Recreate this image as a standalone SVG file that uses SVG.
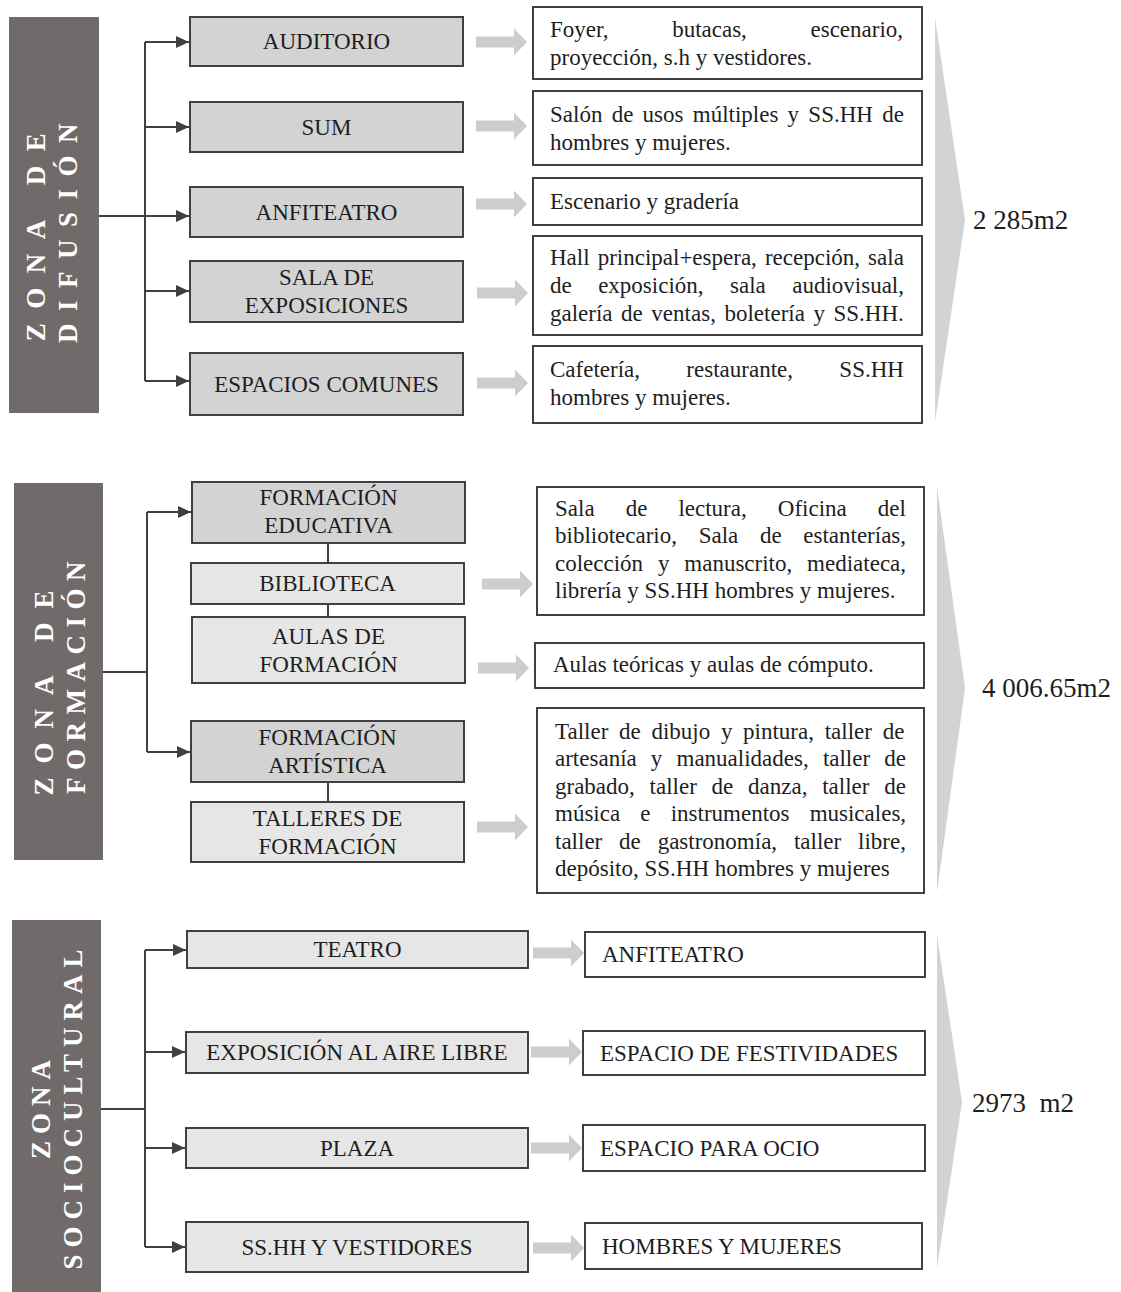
<svg xmlns="http://www.w3.org/2000/svg" width="1121" height="1292" viewBox="0 0 1121 1292">
<style>
.side{fill:#706b6a}
.st{font-family:"Liberation Serif","Times New Roman",serif;font-weight:bold;font-size:27px;fill:#ffffff}
.dk{fill:#d3d3d3;stroke:#404040;stroke-width:2}
.lt{fill:#e6e6e6;stroke:#404040;stroke-width:2}
.wb{fill:#ffffff;stroke:#404040;stroke-width:2}
.lbl{font-family:"Liberation Serif","Times New Roman",serif;font-size:23px;fill:#1e1e1e;text-anchor:middle}
.tx{font-family:"Liberation Serif","Times New Roman",serif;font-size:23px;fill:#1e1e1e}
.tot{font-family:"Liberation Serif","Times New Roman",serif;font-size:27px;fill:#1e1e1e}
.cn{fill:none;stroke:#404040;stroke-width:2}
.chev{fill:#d3d3d3}
.ga{fill:#cdcdcd}
</style>
<defs>
<marker id="ah" markerUnits="userSpaceOnUse" markerWidth="13" markerHeight="12" refX="13" refY="6" orient="auto">
<path d="M0,0 L13,6 L0,12 z" fill="#404040"/>
</marker>
<path id="garrow" d="M0,-5.5 H38 V-13.5 L51,0 L38,13.5 V5.5 H0 z"/>
</defs>

<!-- ZONA DE DIFUSION -->
<g id="zona-difusion">
<rect class="side" x="9" y="17" width="90" height="396"/>
<text class="st" transform="translate(45,230) rotate(-90)" text-anchor="middle" letter-spacing="14.5">ZONA DE</text>
<text class="st" transform="translate(77,227) rotate(-90)" text-anchor="middle" letter-spacing="12.5">DIFUSIÓN</text>
</g>
<g id="auditorio"><rect class="dk" x="190" y="17" width="273" height="49"/><text class="lbl" x="326.5" y="49">AUDITORIO</text></g>
<g id="sum"><rect class="dk" x="190" y="102" width="273" height="50"/><text class="lbl" x="326.5" y="135">SUM</text></g>
<g id="anfiteatro"><rect class="dk" x="190" y="187" width="273" height="50"/><text class="lbl" x="326.5" y="220">ANFITEATRO</text></g>
<g id="sala-exposiciones"><rect class="dk" x="190" y="261" width="273" height="61"/><text class="lbl" x="326.5" y="285">SALA DE</text><text class="lbl" x="326.5" y="313">EXPOSICIONES</text></g>
<g id="espacios-comunes"><rect class="dk" x="190" y="353" width="273" height="62"/><text class="lbl" x="326.5" y="392">ESPACIOS COMUNES</text></g>

<g id="d-auditorio"><rect class="wb" x="533" y="7" width="389" height="72"/>
<text class="tx" x="550" y="37" word-spacing="57.9">Foyer, butacas, escenario,</text>
<text class="tx" x="550" y="65">proyección, s.h y vestidores.</text></g>
<g id="d-sum"><rect class="wb" x="533" y="91" width="389" height="74"/>
<text class="tx" x="550" y="122" word-spacing="3.5">Salón de usos múltiples y SS.HH de</text>
<text class="tx" x="550" y="150">hombres y mujeres.</text></g>
<g id="d-anfiteatro"><rect class="wb" x="533" y="178" width="389" height="47"/>
<text class="tx" x="550" y="209">Escenario y gradería</text></g>
<g id="d-sala"><rect class="wb" x="533" y="236" width="389" height="99"/>
<text class="tx" x="550" y="265" word-spacing="2.3">Hall principal+espera, recepción, sala</text>
<text class="tx" x="550" y="293" word-spacing="20.7">de exposición, sala audiovisual,</text>
<text class="tx" x="550" y="321" word-spacing="2.8">galería de ventas, boletería y SS.HH.</text></g>
<g id="d-espacios"><rect class="wb" x="533" y="346" width="389" height="77"/>
<text class="tx" x="550" y="377" word-spacing="40.6">Cafetería, restaurante, SS.HH</text>
<text class="tx" x="550" y="405">hombres y mujeres.</text></g>
<g id="total-difusion"><polygon class="chev" points="935,18 965,220 935,422"/><text class="tot" x="973" y="229">2 285m2</text></g>

<!-- ZONA DE FORMACION -->
<g id="zona-formacion">
<rect class="side" x="14" y="483" width="89" height="377"/>
<text class="st" transform="translate(53,686) rotate(-90)" text-anchor="middle" letter-spacing="14">ZONA DE</text>
<text class="st" transform="translate(85,674) rotate(-90)" text-anchor="middle" letter-spacing="7.5">FORMACIÓN</text>
</g>
<g id="formacion-educativa"><rect class="dk" x="192" y="482" width="273" height="61"/><text class="lbl" x="328.5" y="505">FORMACIÓN</text><text class="lbl" x="328.5" y="533">EDUCATIVA</text></g>
<g id="biblioteca"><rect class="lt" x="191" y="563" width="273" height="41"/><text class="lbl" x="327.5" y="591">BIBLIOTECA</text></g>
<g id="aulas"><rect class="lt" x="192" y="617" width="273" height="66"/><text class="lbl" x="328.5" y="644">AULAS DE</text><text class="lbl" x="328.5" y="672">FORMACIÓN</text></g>
<g id="formacion-artistica"><rect class="dk" x="191" y="721" width="273" height="61"/><text class="lbl" x="327.5" y="745">FORMACIÓN</text><text class="lbl" x="327.5" y="773">ARTÍSTICA</text></g>
<g id="talleres"><rect class="lt" x="191" y="802" width="273" height="60"/><text class="lbl" x="327.5" y="826">TALLERES DE</text><text class="lbl" x="327.5" y="854">FORMACIÓN</text></g>

<g id="d-biblioteca"><rect class="wb" x="537" y="487" width="387" height="128"/>
<text class="tx" x="555" y="516" word-spacing="25.3">Sala de lectura, Oficina del</text>
<text class="tx" x="555" y="543" word-spacing="15.9">bibliotecario, Sala de estanterías,</text>
<text class="tx" x="555" y="571" word-spacing="9.1">colección y manuscrito, mediateca,</text>
<text class="tx" x="555" y="598">librería y SS.HH hombres y mujeres.</text></g>
<g id="d-aulas"><rect class="wb" x="535" y="643" width="389" height="45"/>
<text class="tx" x="553" y="672">Aulas teóricas y aulas de cómputo.</text></g>
<g id="d-talleres"><rect class="wb" x="537" y="708" width="387" height="185"/>
<text class="tx" x="555" y="739" word-spacing="4.95">Taller de dibujo y pintura, taller de</text>
<text class="tx" x="555" y="766" word-spacing="8.4">artesanía y manualidades, taller de</text>
<text class="tx" x="555" y="794" word-spacing="9.0">grabado, taller de danza, taller de</text>
<text class="tx" x="555" y="821" word-spacing="14.4">música e instrumentos musicales,</text>
<text class="tx" x="555" y="849" word-spacing="11.1">taller de gastronomía, taller libre,</text>
<text class="tx" x="555" y="876">depósito, SS.HH hombres y mujeres</text></g>
<g id="total-formacion"><polygon class="chev" points="937,487 965,688 937,892"/><text class="tot" x="982" y="697">4 006.65m2</text></g>

<!-- ZONA SOCIOCULTURAL -->
<g id="zona-sociocultural">
<rect class="side" x="12" y="920" width="89" height="372"/>
<text class="st" transform="translate(50,1106) rotate(-90)" text-anchor="middle" letter-spacing="7">ZONA</text>
<text class="st" transform="translate(82,1106) rotate(-90)" text-anchor="middle" letter-spacing="7">SOCIOCULTURAL</text>
</g>
<g id="teatro"><rect class="lt" x="187" y="931" width="341" height="37"/><text class="lbl" x="357.5" y="957">TEATRO</text></g>
<g id="expo-aire-libre"><rect class="lt" x="186" y="1032" width="342" height="41"/><text class="lbl" x="357" y="1060">EXPOSICIÓN AL AIRE LIBRE</text></g>
<g id="plaza"><rect class="lt" x="186" y="1128" width="342" height="40"/><text class="lbl" x="357" y="1156">PLAZA</text></g>
<g id="sshh-vestidores"><rect class="lt" x="186" y="1222" width="342" height="50"/><text class="lbl" x="357" y="1255">SS.HH Y VESTIDORES</text></g>

<g id="d-teatro"><rect class="wb" x="585" y="932" width="340" height="45"/><text class="tx" x="602" y="962">ANFITEATRO</text></g>
<g id="d-expo"><rect class="wb" x="583" y="1031" width="342" height="44"/><text class="tx" x="600" y="1061">ESPACIO DE FESTIVIDADES</text></g>
<g id="d-plaza"><rect class="wb" x="583" y="1125" width="342" height="46"/><text class="tx" x="600" y="1156">ESPACIO PARA OCIO</text></g>
<g id="d-sshh"><rect class="wb" x="585" y="1223" width="337" height="46"/><text class="tx" x="602" y="1254">HOMBRES Y MUJERES</text></g>
<g id="total-sociocultural"><polygon class="chev" points="937,935 962,1102 937,1268"/><text class="tot" x="972" y="1112" xml:space="preserve">2973  m2</text></g>

<!-- connectors -->
<g id="connectors">
<path class="cn" d="M99,216 H145 M145,42 V381"/>
<path class="cn" d="M145,42 H189" marker-end="url(#ah)"/>
<path class="cn" d="M145,127 H189" marker-end="url(#ah)"/>
<path class="cn" d="M145,216 H189" marker-end="url(#ah)"/>
<path class="cn" d="M145,291 H189" marker-end="url(#ah)"/>
<path class="cn" d="M145,381 H189" marker-end="url(#ah)"/>

<path class="cn" d="M103,672 H147 M147,512 V752"/>
<path class="cn" d="M147,512 H191" marker-end="url(#ah)"/>
<path class="cn" d="M147,752 H190" marker-end="url(#ah)"/>
<path class="cn" d="M328,543 V563 M328,604 V617 M328,782 V802"/>

<path class="cn" d="M101,1109 H145 M145,950 V1247"/>
<path class="cn" d="M145,950 H186" marker-end="url(#ah)"/>
<path class="cn" d="M145,1052 H185" marker-end="url(#ah)"/>
<path class="cn" d="M145,1148 H185" marker-end="url(#ah)"/>
<path class="cn" d="M145,1247 H185" marker-end="url(#ah)"/>

<use href="#garrow" class="ga" x="476" y="42"/>
<use href="#garrow" class="ga" x="476" y="126"/>
<use href="#garrow" class="ga" x="476" y="204"/>
<use href="#garrow" class="ga" x="477" y="293"/>
<use href="#garrow" class="ga" x="477" y="383"/>
<use href="#garrow" class="ga" x="482" y="584"/>
<use href="#garrow" class="ga" x="478" y="668"/>
<use href="#garrow" class="ga" x="477" y="827"/>
<use href="#garrow" class="ga" x="533" y="953"/>
<use href="#garrow" class="ga" x="531" y="1052"/>
<use href="#garrow" class="ga" x="531" y="1148"/>
<use href="#garrow" class="ga" x="533" y="1248"/>
</g>
</svg>
